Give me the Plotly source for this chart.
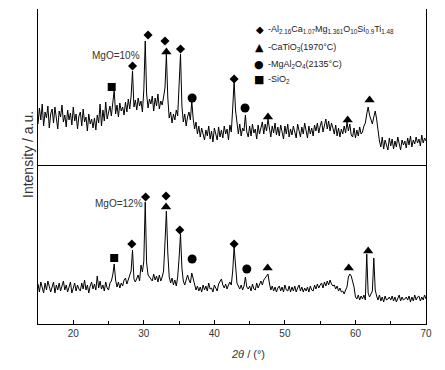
import numpy as np
import plotly.graph_objects as go

# 2theta grid (degrees), 0.2 deg step from 15 to 70
two_theta = np.round(np.arange(15.0, 70.0001, 0.2), 1)

# MgO = 10 % (top pattern), intensity a.u.
int_mgo10 = [
    40, 56, 44, 60, 38, 52, 46, 58, 36, 50,   # 15.0
    55, 41, 57, 45, 35, 53, 47, 59, 42, 49,   # 17.0
    37, 54, 44, 51, 39, 57, 43, 50, 35, 48,   # 19.0
    52, 38, 55, 42, 47, 33, 50, 40, 45, 36,   # 21.0
    46, 34, 49, 41, 60, 38, 54, 43, 62, 45,   # 23.0
    52, 58, 48, 60, 74, 50, 59, 47, 61, 53,   # 25.0
    57, 49, 62, 52, 65, 55, 68, 93, 57, 64,   # 27.0
    54, 66, 58, 63, 52, 74, 123, 70, 56, 65,  # 29.0
    60, 68, 53, 66, 58, 70, 55, 63, 59, 67,   # 31.0
    76, 110, 66, 46, 52, 41, 50, 44, 54, 48,  # 33.0
    80, 110, 58, 42, 50, 38, 47, 52, 44, 63,  # 35.0
    45, 35, 42, 30, 38, 27, 36, 31, 24, 34,   # 37.0
    28, 38, 25, 33, 22, 36, 29, 24, 37, 27,   # 39.0
    34, 26, 38, 30, 35, 24, 39, 32, 56, 83,   # 41.0
    54, 38, 30, 40, 28, 36, 33, 49, 32, 27,   # 43.0
    38, 28, 40, 31, 35, 25, 39, 30, 36, 42,   # 45.0
    30, 40, 33, 45, 36, 27, 38, 31, 41, 29,   # 47.0
    37, 28, 39, 32, 25, 38, 30, 40, 27, 35,   # 49.0
    29, 38, 32, 26, 40, 33, 27, 37, 30, 41,   # 51.0
    32, 26, 38, 30, 36, 28, 39, 33, 41, 31,   # 53.0
    38, 43, 32, 40, 45, 35, 43, 33, 41, 36,   # 55.0
    30, 39, 28, 36, 27, 35, 30, 38, 31, 42,   # 57.0
    33, 40, 29, 27, 36, 26, 34, 28, 37, 30,   # 59.0
    32, 38, 41, 50, 57, 49, 43, 40, 47, 53,   # 61.0
    45, 30, 23, 17, 27, 15, 24, 19, 14, 26,   # 63.0
    18, 25, 15, 23, 17, 27, 20, 14, 24, 19,   # 65.0
    23, 16, 26, 19, 28, 17, 24, 20, 27, 21,   # 67.0
    25, 18, 29, 21, 26, 23,                   # 69.0
]

# MgO = 12 % (bottom pattern), intensity a.u.
int_mgo12 = [
    40, 32, 42, 35, 31, 41, 34, 43, 36, 32,   # 15.0
    37, 42, 31, 39, 34, 41, 33, 38, 43, 34,   # 17.0
    39, 32, 38, 42, 31, 37, 41, 33, 39, 35,   # 19.0
    33, 41, 35, 44, 34, 39, 31, 38, 42, 35,   # 21.0
    40, 34, 48, 36, 43, 35, 39, 33, 42, 36,   # 23.0
    34, 41, 43, 49, 60, 44, 37, 42, 36, 41,   # 25.0
    38, 44, 46, 40, 45, 48, 53, 74, 45, 42,   # 27.0
    46, 49, 43, 59, 52, 63, 122, 61, 49, 47,  # 29.0
    45, 43, 50, 44, 48, 42, 49, 43, 47, 53,   # 31.0
    81, 113, 71, 47, 41, 46, 39, 44, 38, 47,  # 33.0
    66, 90, 56, 43, 39, 44, 49, 44, 41, 51,   # 35.0
    45, 37, 34, 38, 33, 37, 32, 39, 34, 38,   # 37.0
    33, 41, 35, 36, 32, 39, 35, 33, 40, 43,   # 39.0
    45, 39, 36, 40, 35, 39, 42, 39, 53, 77,   # 41.0
    56, 41, 38, 35, 39, 34, 38, 47, 37, 35,   # 43.0
    38, 33, 40, 35, 34, 41, 36, 40, 43, 39,   # 45.0
    44, 46, 48, 50, 41, 34, 38, 33, 37, 32,   # 47.0
    36, 38, 33, 37, 32, 39, 34, 33, 38, 32,   # 49.0
    37, 33, 38, 32, 36, 39, 33, 37, 32, 36,   # 51.0
    33, 37, 32, 38, 34, 33, 39, 35, 40, 36,   # 53.0
    39, 41, 36, 42, 38, 43, 39, 44, 40, 38,   # 55.0
    39, 35, 38, 33, 36, 32, 33, 30, 34, 37,   # 57.0
    47, 50, 48, 43, 37, 27, 25, 29, 24, 28,   # 59.0
    25, 29, 24, 70, 31, 27, 30, 33, 66, 34,   # 61.0
    28, 24, 29, 23, 27, 22, 28, 24, 25, 27,   # 63.0
    24, 28, 23, 27, 22, 26, 29, 23, 27, 24,   # 65.0
    25, 27, 24, 28, 22, 27, 23, 29, 24, 27,   # 67.0
    28, 23, 27, 24, 29, 25,                   # 69.0
]

# Phase identification marks (2theta, height) for each pattern
top_diamond_x = [28.4, 30.6, 33.0, 35.2, 42.8]
top_diamond_y = [98, 129, 123, 115, 85]
top_triangle_x = [33.2, 47.6, 58.9, 62.0]
top_triangle_y = [112, 47, 44, 64]
top_circle_x = [36.85, 44.35]
top_circle_y = [66, 56]
top_square_x = [25.45]
top_square_y = [77]

bot_diamond_x = [28.3, 30.25, 33.15, 35.1, 42.8]
bot_diamond_y = [80, 127, 128, 94, 80]
bot_triangle_x = [33.15, 47.55, 59.05, 61.8]
bot_triangle_y = [117, 56, 56, 73]
bot_circle_x = [36.85, 44.6]
bot_circle_y = [65, 55]
bot_square_x = [25.8]
bot_square_y = [66]

phase_symbols = ["◆", "▲", "●", "■"]
phase_names = [
    "-Al<sub>2.16</sub>Ca<sub>1.07</sub>Mg<sub>1.361</sub>O<sub>10</sub>Si<sub>0.9</sub>Ti<sub>1.48</sub>",
    "-CaTiO<sub>3</sub>(1970°C)",
    "-MgAl<sub>2</sub>O<sub>4</sub>(2135°C)",
    "-SiO<sub>2</sub>",
]
sample_labels = ["MgO=10%", "MgO=12%"]
x_ticks = [20, 30, 40, 50, 60, 70]

FONT = "Liberation Sans, Arial, sans-serif"
fig = go.Figure()

fig.add_trace(go.Scatter(x=two_theta, y=int_mgo10, mode="lines", yaxis="y2",
                         line=dict(color="black", width=1), showlegend=False, hoverinfo="skip"))
fig.add_trace(go.Scatter(x=two_theta, y=int_mgo12, mode="lines", yaxis="y",
                         line=dict(color="black", width=1), showlegend=False, hoverinfo="skip"))

symbols = ["diamond", "triangle-up", "circle", "square"]
sizes = [7, 9, 9, 8]
top_sets = [(top_diamond_x, top_diamond_y), (top_triangle_x, top_triangle_y),
            (top_circle_x, top_circle_y), (top_square_x, top_square_y)]
bot_sets = [(bot_diamond_x, bot_diamond_y), (bot_triangle_x, bot_triangle_y),
            (bot_circle_x, bot_circle_y), (bot_square_x, bot_square_y)]
for k in range(4):
    fig.add_trace(go.Scatter(x=top_sets[k][0], y=top_sets[k][1], mode="markers", yaxis="y2",
                             marker=dict(symbol=symbols[k], size=sizes[k], color="black"),
                             showlegend=False, hoverinfo="skip"))
    fig.add_trace(go.Scatter(x=bot_sets[k][0], y=bot_sets[k][1], mode="markers", yaxis="y",
                             marker=dict(symbol=symbols[k], size=sizes[k], color="black"),
                             showlegend=False, hoverinfo="skip"))

# page body has an 8px margin -> figure shrunk by 8px, positions are relative to plot area
PX_L, PX_T, PLOT_W, PLOT_H = 38, 9, 388, 315
def px(xr, yr):
    return (xr - PX_L) / PLOT_W, (PX_T + PLOT_H - yr) / PLOT_H

split = 158 / 315
fig.update_layout(
    width=437, height=362,
    margin=dict(l=30, r=19, t=1, b=46),
    paper_bgcolor="white", plot_bgcolor="white",
    font=dict(family=FONT, color="#222", size=10),
    xaxis=dict(range=[15, 70], tickvals=x_ticks, ticks="inside", ticklen=4,
               tickcolor="black", showline=True, linecolor="black", linewidth=1, mirror=True,
               showgrid=False, zeroline=False, tickfont=dict(size=10, color="#333"),
               minor=dict(dtick=5, tick0=15, ticks="inside", ticklen=3, tickcolor="black")),
    yaxis=dict(domain=[0, split], range=[0, 158], showticklabels=False, ticks="",
               showline=True, linecolor="black", linewidth=1, mirror=True,
               showgrid=False, zeroline=False),
    yaxis2=dict(domain=[split, 1], range=[-2, 155], showticklabels=False, ticks="",
                showline=True, linecolor="black", linewidth=1, mirror=True,
                showgrid=False, zeroline=False),
    showlegend=False,
)

# legend (symbol + phase name)
legend_rows_y = [29, 47, 64, 80]
symbol_font_sizes = [10, 11, 11, 11]
for k in range(4):
    ax, ay = px(266, legend_rows_y[k])
    fig.add_annotation(text=phase_symbols[k], xref="paper", yref="paper", x=ax, y=ay,
                       xanchor="right", yanchor="middle", showarrow=False,
                       font=dict(size=symbol_font_sizes[k], color="black",
                                 family="DejaVu Sans"))
    fig.add_annotation(text=phase_names[k], xref="paper", yref="paper", x=ax, y=ay,
                       xanchor="left", yanchor="middle", showarrow=False,
                       font=dict(size=9, color="#222"))

x0, y0 = px(90, 48)
fig.add_annotation(text=sample_labels[0], xref="paper", yref="paper", x=x0, y=y0,
                   showarrow=False, font=dict(size=10, color="#333"))
x0, y0 = px(93, 203)
fig.add_annotation(text=sample_labels[1], xref="paper", yref="paper", x=x0, y=y0,
                   showarrow=False, font=dict(size=10, color="#333"))
x0, y0 = px(18, 155)
fig.add_annotation(text="Intensity / a.u.", xref="paper", yref="paper", x=x0, y=y0,
                   textangle=-90, showarrow=False, font=dict(size=14, color="#333"))
x0, y0 = px(248, 362)
fig.add_annotation(text="<i>2θ</i> / (°)", xref="paper", yref="paper", x=x0, y=y0,
                   showarrow=False, font=dict(size=11, color="#333"))

fig.write_html("out.html")
